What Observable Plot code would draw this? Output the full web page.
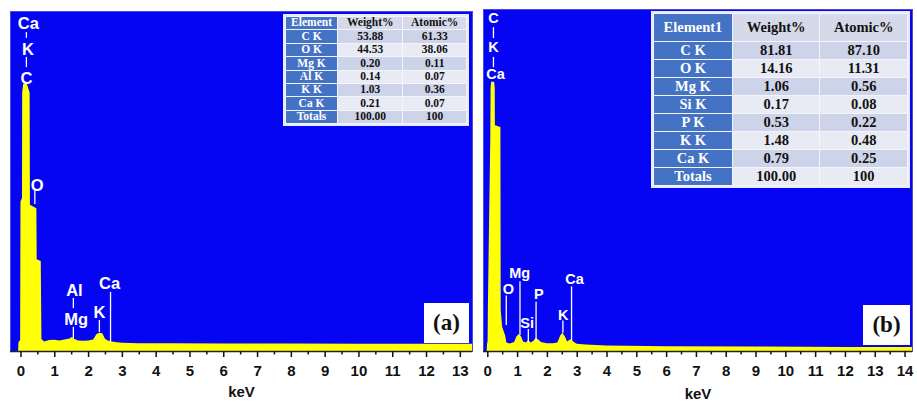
<!DOCTYPE html>
<html><head><meta charset="utf-8">
<script src="https://cdn.jsdelivr.net/npm/d3@7"></script>
<script src="https://cdn.jsdelivr.net/npm/@observablehq/plot@0.6"></script>
<style>
body{margin:0;background:#fff;}
#wrap{position:relative;width:917px;height:404px;overflow:hidden;background:#fff;}
#pa,#pb{position:absolute;top:0;}
#pa{left:0;} #pb{left:477px;}
table.eds{position:absolute;border-collapse:collapse;font-family:"Liberation Serif","Times New Roman",serif;font-weight:bold;text-align:center;color:#111;outline:2px solid #e8eaf6;}
table.eds td{border:1.5px solid #f4f5fb;padding:0;line-height:1;}
table.eds td.el{background:#4472c4;color:#fff;}
table.eds tr.hd td{background:#d6d9ea;}
table.eds tr.hd td.el{background:#4472c4;}
table.eds tr.odd td{background:#cdd3e8;}
table.eds tr.even td{background:#e8eaf4;}
table.eds tr td.el{background:#4472c4;}
.tag{position:absolute;background:#fff;font-family:"Liberation Serif","Times New Roman",serif;font-weight:bold;font-size:23px;color:#111;display:flex;align-items:center;justify-content:center;}
</style></head>
<body><div id="wrap"><div id="pa"></div><div id="pb"></div></div>
<script>
// ---------- Panel (a) spectrum ----------
const keVA = [-0.31,-0.07,-0.06,-0.01,0.0,0.045,0.05,0.08,0.19,0.27,0.28,0.47,0.48,0.6,0.62,0.7,0.85,1.0,1.15,1.3,1.45,1.52,1.6,1.7,1.85,2.0,2.15,2.25,2.33,2.42,2.5,2.58,2.7,2.85,3.0,3.5,4.5,6.0,8.0,10.0,12.0,13.36];
const countsA = [0,0,2.6,3.2,44,45,76,78.5,78.5,76,43,42,27,26.5,3.5,2.8,3.2,3.3,3.1,3.4,3.7,4.1,3.5,3.1,3.0,3.1,3.4,5.0,5.4,5.2,3.6,3.1,2.8,2.6,2.4,2.3,2.3,2.2,2.2,2.1,2.1,2.1];
// ---------- Panel (b) spectrum ----------
const keVB = [-0.15,-0.02,-0.01,0.01,0.02,0.06,0.1,0.11,0.13,0.23,0.25,0.255,0.44,0.45,0.5,0.55,0.6,0.64,0.75,0.9,0.98,1.06,1.14,1.2,1.3,1.37,1.45,1.55,1.62,1.7,1.8,2.0,2.2,2.35,2.45,2.52,2.6,2.68,2.76,2.82,2.9,3.0,3.3,4.0,6.0,9.0,12.0,14.25];
const countsB = [0,0,2,3,13,38,62,77,78.7,78.7,77,66,65.5,12,7,5.8,4.5,2.5,2.2,2.6,4.3,5.0,4.2,2.8,2.5,3.2,2.5,3.0,3.8,3.4,2.6,2.3,2.3,2.5,4.6,5.3,4.3,2.8,3.3,3.4,2.6,2.1,1.9,1.6,1.4,1.3,1.2,1.2];

// axis ticks
const majorTicksA = [0,1,2,3,4,5,6,7,8,9,10,11,12,13];
const minorTicksA = [0.5,1.5,2.5,3.5,4.5,5.5,6.5,7.5,8.5,9.5,10.5,11.5,12.5];
const majorTicksB = [0,1,2,3,4,5,6,7,8,9,10,11,12,13,14];
const minorTicksB = [0.5,1.5,2.5,3.5,4.5,5.5,6.5,7.5,8.5,9.5,10.5,11.5,12.5,13.5];

// peak labels (a)
const labelTextA = ["Ca","K","C","O","Al","Mg","K","Ca"];
const labelXA = [0.22,0.21,0.16,0.48,1.58,1.63,2.32,2.62];
const labelYA = [96.5,88.8,80.3,48.8,17.9,9.4,11.5,20.0];
const ruleXA = [0.16,0.16,0.41,1.55,1.55,2.32,2.65];
const ruleY1A = [92.1,83.5,43.2,12.6,3.8,5.6,2.6];
const ruleY2A = [93.8,86.5,47.2,15.6,7.1,9.1,17.4];
// peak labels (b)
const labelTextB = ["C","K","Ca","O","Mg","Si","P","K","Ca"];
const labelXB = [0.19,0.19,0.26,0.69,1.07,1.32,1.71,2.53,2.91];
const labelYB = [97.4,88.9,81.0,18.3,22.9,8.2,16.6,10.7,21.0];
const ruleXB = [0.19,0.19,0.62,1.08,1.36,1.62,2.52,2.81];
const ruleY1B = [91.5,83.0,7.6,4.7,2.6,2.6,5.3,3.2];
const ruleY2B = [94.7,86.0,16.2,20.4,6.4,14.4,8.9,18.9];

// tables
const tableHeadA = ["Element","Weight%","Atomic%"];
const elementsA = ["C K","O K","Mg K","Al K","K K","Ca K","Totals"];
const weightA = ["53.88","44.53","0.20","0.14","1.03","0.21","100.00"];
const atomicA = ["61.33","38.06","0.11","0.07","0.36","0.07","100"];
const tableHeadB = ["Element1","Weight%","Atomic%"];
const elementsB = ["C K","O K","Mg K","Si K","P K","K K","Ca K","Totals"];
const weightB = ["81.81","14.16","1.06","0.17","0.53","1.48","0.79","100.00"];
const atomicB = ["87.10","11.31","0.56","0.08","0.22","0.48","0.25","100"];

const BLUE = "#0505f3", YELLOW = "#ffff06";

function spectrum(o) {
  const data = o.keV.map((k, i) => ({k, c: o.counts[i]}));
  const labels = o.lt.map((t, i) => ({t, x: o.lx[i], y: o.ly[i]}));
  const rules = o.rx.map((x, i) => ({x, y1: o.ry1[i], y2: o.ry2[i]}));
  return Plot.plot({
    width: o.width, height: 404,
    marginLeft: o.ml, marginRight: o.mr, marginTop: o.mt, marginBottom: o.mb,
    style: {fontFamily: "'Liberation Sans', Arial, sans-serif", background: "transparent", color: "#111"},
    x: {domain: o.domain},
    y: {domain: [0, 100], axis: null},
    marks: [
      Plot.frame({fill: BLUE, stroke: "#4a4ad8"}),
      Plot.areaY(data, {x: "k", y: "c", fill: YELLOW, curve: "linear"}),
      Plot.ruleY([0], {stroke: "#222", strokeWidth: 1.5}),
      Plot.ruleX(rules, {x: "x", y1: "y1", y2: "y2", stroke: "#fff", strokeWidth: 1.3}),
      Plot.text(labels, {x: "x", y: "y", text: "t", fill: "#fff", fontSize: o.lfs, fontWeight: "bold"}),
      Plot.axisX(o.minor, {tickSize: 3.5, tickFormat: () => "", label: null, strokeWidth: 1.5}),
      Plot.axisX(o.major, {tickSize: 6, tickPadding: 8, fontSize: 15, fontWeight: "bold", strokeWidth: 1.5,
        label: "keV", labelAnchor: "center", labelArrow: "none", labelOffset: o.lo})
    ]
  });
}

document.getElementById("pa").append(spectrum({
  keV: keVA, counts: countsA, width: 477, ml: 10, mr: 5, mt: 11, mb: 53, lfs: 16.5, lo: 45,
  domain: [-0.31, 13.36], major: majorTicksA, minor: minorTicksA,
  lt: labelTextA, lx: labelXA, ly: labelYA, rx: ruleXA, ry1: ruleY1A, ry2: ruleY2A
}));
document.getElementById("pb").append(spectrum({
  keV: keVB, counts: countsB, width: 440, ml: 6, mr: 5, mt: 9, mb: 53, lfs: 14.5, lo: 47,
  domain: [-0.144, 14.25], major: majorTicksB, minor: minorTicksB,
  lt: labelTextB, lx: labelXB, ly: labelYB, rx: ruleXB, ry1: ruleY1B, ry2: ruleY2B
}));

function makeTable(head, el, w, a, opt) {
  const t = document.createElement("table");
  t.className = "eds";
  Object.assign(t.style, {left: opt.left + "px", top: opt.top + "px", width: opt.width + "px", fontSize: opt.fs + "px"});
  const rows = [head].concat(el.map((e, i) => [e, w[i], a[i]]));
  rows.forEach((r, i) => {
    const tr = document.createElement("tr");
    tr.className = i === 0 ? "hd" : (i % 2 ? "odd" : "even");
    tr.style.height = (i === 0 ? opt.hh : opt.rh) + "px";
    r.forEach((c, j) => {
      const td = document.createElement("td");
      td.textContent = c;
      td.style.width = opt.cw[j] + "px";
      if (j === 0) td.className = "el";
      tr.append(td);
    });
    t.append(tr);
  });
  document.getElementById("wrap").append(t);
}
makeTable(tableHeadA, elementsA, weightA, atomicA, {left: 285, top: 16, width: 182, fs: 11.5, hh: 13.4, rh: 13.4, cw: [52, 66, 64]});
makeTable(tableHeadB, elementsB, weightB, atomicB, {left: 653, top: 13, width: 255, fs: 14.5, hh: 28, rh: 18, cw: [79, 88, 88]});

function tag(txt, l, t, w, h) {
  const d = document.createElement("div");
  d.className = "tag"; d.textContent = txt;
  Object.assign(d.style, {left: l + "px", top: t + "px", width: w + "px", height: h + "px"});
  document.getElementById("wrap").append(d);
}
tag("(a)", 424, 303, 45, 40);
tag("(b)", 863, 305, 47, 40);
</script></body></html>
